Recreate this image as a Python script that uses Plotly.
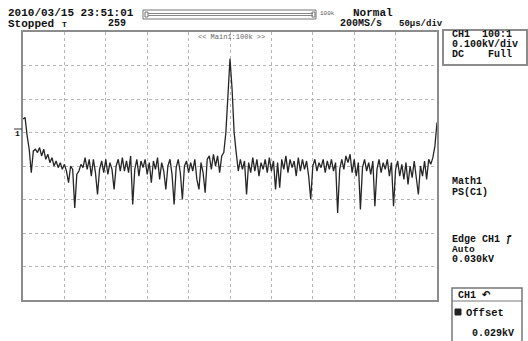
import plotly.graph_objects as go

# Trace values in screen divisions (0 = bottom of graticule, 8 = top), sampled every 0.05 div
trace_div = [
    5.4, 5.45, 4.9, 4.5, 3.8, 4.45, 4.5, 4.4, 4.55, 4.3,
    4.5, 4.2, 4.35, 4.1, 4.25, 4.0, 4.15, 3.95, 4.1, 3.9,
    4.05, 3.85, 3.5, 4.0, 3.9, 2.75, 3.75, 3.85, 4.05, 3.95,
    4.25, 3.9, 4.2, 3.7, 4.2, 3.8, 3.15, 3.9, 4.15, 3.8,
    4.2, 3.75, 4.1, 3.9, 3.3, 4.0, 4.2, 3.85, 4.25, 3.85,
    4.15, 3.8, 4.3, 2.85, 3.9, 4.2, 3.7, 4.15, 3.95, 4.2,
    3.75, 4.1, 3.5, 4.15, 3.9, 4.25, 3.6, 4.1, 3.85, 3.3,
    4.0, 4.2, 3.75, 2.85, 3.95, 4.2, 3.8, 3.0, 4.0, 4.15,
    3.8, 4.1, 3.85, 4.2, 3.6, 3.3, 4.1, 3.8, 3.2, 4.2,
    4.3, 3.9, 4.35, 4.0, 4.3, 3.8, 4.3, 4.4, 5.0, 6.2,
    7.2, 6.3, 5.0, 4.4, 3.85, 4.2, 3.9, 4.15, 3.15, 4.1,
    3.8, 4.25, 3.85, 4.2, 3.7, 4.1, 3.9, 4.2, 3.8, 4.25,
    3.85, 4.15, 3.3, 4.1, 3.35, 4.2, 3.9, 4.3, 3.8, 4.2,
    3.95, 4.15, 3.7, 4.25, 3.85, 4.2, 3.9, 4.15, 3.7, 3.0,
    4.0, 4.2, 3.85, 4.1, 3.95, 4.2, 3.8, 4.15, 3.9, 4.2,
    3.85, 4.1, 2.6, 3.9, 4.2, 3.9, 4.3, 4.1, 4.35, 3.8,
    4.2, 3.7, 4.1, 2.7, 3.95, 4.2, 3.85, 4.1, 3.75, 4.15,
    2.8, 3.9, 4.2, 3.8, 4.1, 3.9, 4.2, 3.7, 4.1, 2.8,
    3.9, 4.15, 3.7, 4.05, 3.6, 4.1, 3.45, 4.0, 3.65, 4.15,
    3.55, 3.15, 4.0, 3.7, 4.15, 3.6, 4.2, 4.05, 4.25, 4.6,
    5.3,
]
sample_step_div = 0.05
time_div = [i * sample_step_div for i in range(len(trace_div))]

header_left = ["2010/03/15 23:51:01", "Stopped", "259"]
header_right = ["Normal", "200MS/s", "50\u03bcs/div"]
ch_box_lines = ["CH1  100:1", "0.100kV/div", "DC    Full"]
math_lines = ["Math1", "PS(C1)"]
trig_lines = ["Edge CH1 \u0192", "Auto", "0.030kV"]
offset_lines = ["CH1 \u21b6", "Offset", "0.029kV"]
zoom_label = "<< Main1:100k >>"

W, H = 528, 341
L, R, T, B = 23, 437, 32, 300

def px(x):
    return (x - L) / (R - L)

def py(y):
    return (B - y) / (B - T)

FONT = "Liberation Mono"
INK = "#111111"

fig = go.Figure()
fig.add_trace(go.Scatter(
    x=time_div, y=trace_div, mode="lines",
    line=dict(color="#262626", width=1.3),
    hoverinfo="skip", showlegend=False,
))

grid = dict(showgrid=True, gridcolor="#b5b5b5", griddash="dot", gridwidth=1,
            showline=True, linecolor="#8c8c8c", linewidth=2, mirror=True,
            zeroline=False, showticklabels=False, ticks="", dtick=1, fixedrange=True)
fig.update_xaxes(range=[0, 10], **grid)
fig.update_yaxes(range=[0, 8], **grid)

anns = []
def txt(x, y, s, size=11, bold=True, color=INK, anchor="left"):
    anns.append(dict(x=px(x), y=py(y), xref="paper", yref="paper", text=(f"<b>{s}</b>" if bold else s),
                     showarrow=False, xanchor=anchor, yanchor="middle",
                     font=dict(family=FONT, size=size, color=color)))

txt(6, 13, header_left[0])
txt(6, 24, header_left[1])
txt(60, 25, "T", size=8)
txt(106, 24, header_left[2], size=10)
txt(351, 13, header_right[0])
txt(338, 24, header_right[1], size=10)
txt(397, 24, header_right[2], size=9)
txt(318, 14, "100k", size=6, bold=False, color="#555")
txt(231, 37, zoom_label, size=7, bold=False, color="#666", anchor="center")

txt(450, 35, ch_box_lines[0], size=10)
txt(450, 45, ch_box_lines[1], size=10)
txt(450, 55, ch_box_lines[2], size=10)

txt(450, 181, math_lines[0], size=10)
txt(450, 192, math_lines[1], size=10)
txt(450, 239, trig_lines[0], size=10)
txt(450, 249, trig_lines[1], size=9.5)
txt(450, 259, trig_lines[2], size=10)

txt(456, 295, offset_lines[0], size=10)
txt(464, 313, offset_lines[1], size=10.5)
txt(470, 333, offset_lines[2], size=10)

txt(13, 133, "1", size=8)

shapes = []
def rect(x0, y0, x1, y1, color="#8c8c8c", width=2, fill=None):
    shapes.append(dict(type="rect", xref="paper", yref="paper",
                       x0=px(x0), x1=px(x1), y0=py(y0), y1=py(y1),
                       line=dict(color=color, width=width),
                       fillcolor=fill if fill else "rgba(0,0,0,0)"))

def line(x0, y0, x1, y1, color="#8c8c8c", width=1):
    shapes.append(dict(type="line", xref="paper", yref="paper",
                       x0=px(x0), x1=px(x1), y0=py(y0), y1=py(y1),
                       line=dict(color=color, width=width)))

# record length bar
rect(143, 10, 316, 19, color="#777", width=1)
rect(145, 12, 148, 17, color="#777", width=1)
line(148, 13.5, 313, 13.5, color="#888", width=1)
line(148, 15.5, 313, 15.5, color="#888", width=1)
rect(312, 12, 315, 17, color="#777", width=1)

# right panel boxes
rect(443, 30, 527, 65, color="#8c8c8c", width=2)
rect(452, 288, 522, 346, color="#777", width=1.5)
line(452, 301, 522, 301, color="#777", width=1)
rect(455, 309, 461, 315, color="#222", width=1, fill="#222")

# ground marker
line(14, 129, 22, 129, color="#333", width=1)

fig.update_layout(
    width=W, height=H,
    margin=dict(l=L, r=W - R, t=T, b=H - B),
    paper_bgcolor="white", plot_bgcolor="white",
    annotations=anns, shapes=shapes, showlegend=False,
)
fig.write_html("out.html", config={"displayModeBar": False},
               post_script="document.body.style.margin='0';document.body.style.overflow='hidden';")
